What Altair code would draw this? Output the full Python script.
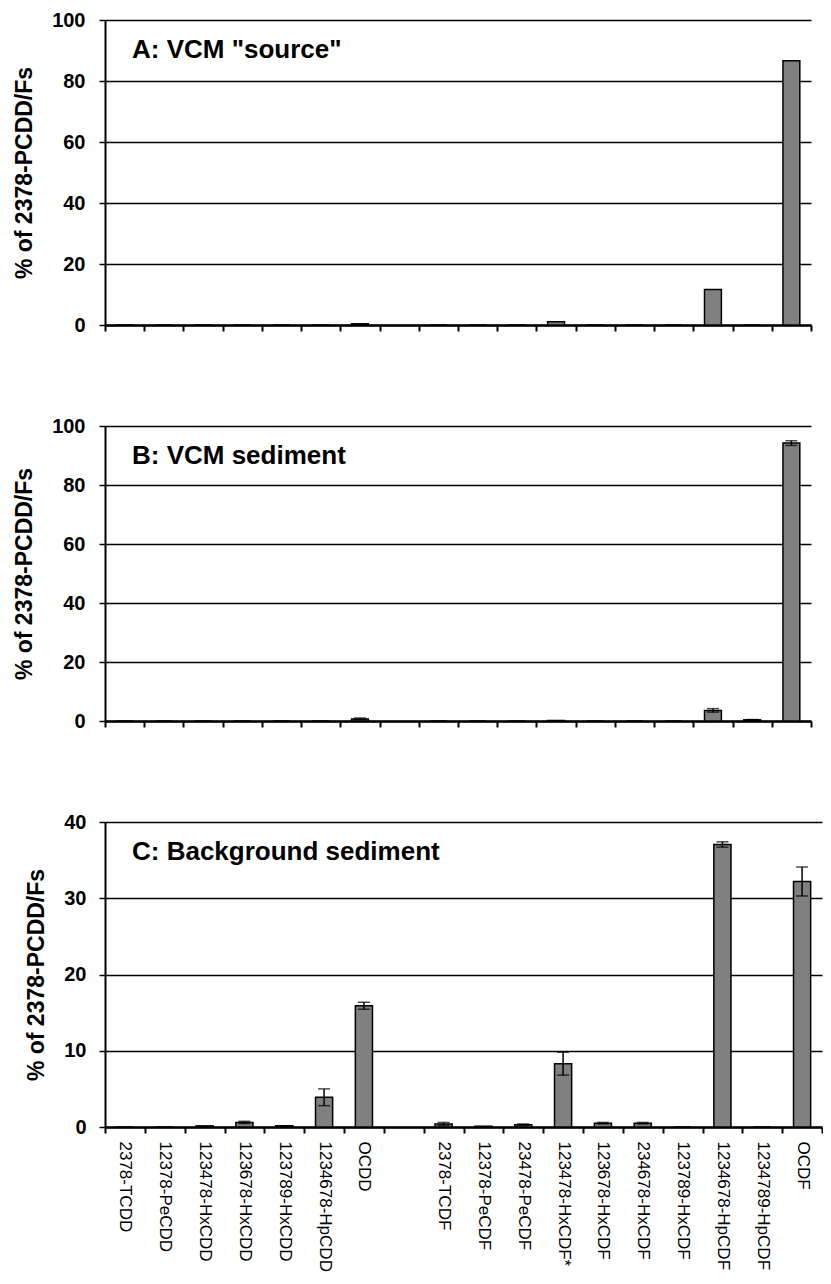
import altair as alt
import pandas as pd

# x-axis slots (the blank slot separates PCDDs from PCDFs)
categories = ["2378-TCDD", "12378-PeCDD", "123478-HxCDD", "123678-HxCDD", "123789-HxCDD",
              "1234678-HpCDD", "OCDD", " ", "2378-TCDF", "12378-PeCDF", "23478-PeCDF",
              "123478-HxCDF*", "123678-HxCDF", "234678-HxCDF", "123789-HxCDF",
              "1234678-HpCDF", "1234789-HpCDF", "OCDF"]
congeners = [c for c in categories if c.strip()]

# Panel A: VCM "source"
a_values = [0, 0, 0, 0, 0, 0, 0.4, 0, 0, 0, 1.1, 0, 0, 0, 11.6, 0, 86.6]
a_errors = [0, 0, 0, 0, 0, 0, 0, 0, 0, 0, 0, 0, 0, 0, 0, 0, 0]
# Panel B: VCM sediment
b_values = [0, 0, 0, 0, 0, 0, 0.7, 0, 0, 0, 0.2, 0, 0, 0, 3.6, 0.4, 94.2]
b_errors = [0, 0, 0, 0, 0, 0, 0.3, 0, 0, 0, 0, 0, 0, 0, 0.6, 0.1, 0.8]
# Panel C: Background sediment
c_values = [0, 0, 0.15, 0.6, 0.15, 3.9, 15.9, 0.4, 0.1, 0.3, 8.3, 0.5, 0.5, 0, 37.05, 0, 32.2]
c_errors = [0, 0, 0, 0.15, 0, 1.1, 0.45, 0.2, 0, 0.1, 1.5, 0.1, 0.1, 0, 0.35, 0, 1.9]

a_ticks = [0, 20, 40, 60, 80, 100]
c_ticks = [0, 10, 20, 30, 40]

FONT = "Liberation Sans"


def panel(values, errors, ticks, label, show_labels, width, height, label_pad):
    df = pd.DataFrame({"cat": congeners, "val": values, "err": errors})
    df["lo"] = df["val"] - df["err"]
    df["hi"] = df["val"] + df["err"]
    eb = df[df["err"] > 0]

    xscale = alt.Scale(domain=categories, paddingInner=0, paddingOuter=0)
    xaxis = alt.Axis(title=None, labels=show_labels, labelAngle=90, labelFont=FONT,
                     labelFontSize=17, labelColor="black", labelPadding=8,
                     labelOverlap=False, labelLimit=300, tickBand="extent",
                     ticks=True, tickSize=6, tickWidth=2,
                     tickColor="black", domainColor="black", domainWidth=2.5)
    yscale = alt.Scale(domain=[ticks[0], ticks[-1]], nice=False)
    yaxis = alt.Axis(title="% of 2378-PCDD/Fs", values=ticks, grid=True,
                     gridColor="black", gridWidth=1.5, tickSize=6, tickWidth=1.5,
                     tickColor="black", domainColor="black", domainWidth=2,
                     labelFont=FONT, labelFontSize=20, labelFontWeight="bold",
                     labelColor="black", labelPadding=label_pad,
                     titleFont=FONT, titleFontSize=23, titleFontWeight="bold",
                     titleColor="black", titlePadding=15)

    x = alt.X("cat:N", scale=xscale, sort=categories, axis=xaxis)
    bars = alt.Chart(df).mark_bar(
        width=alt.RelativeBandSize(0.43), color="#808080", stroke="black", strokeWidth=1.5
    ).encode(x=x, y=alt.Y("val:Q", scale=yscale, axis=yaxis))
    rule = alt.Chart(eb).mark_rule(color="black", strokeWidth=1.5).encode(
        x=alt.X("cat:N", scale=xscale, sort=categories),
        y=alt.Y("lo:Q", scale=yscale), y2="hi:Q")
    cap_hi = alt.Chart(eb).mark_tick(color="black", size=12, thickness=1.5).encode(
        x=alt.X("cat:N", scale=xscale, sort=categories), y=alt.Y("hi:Q", scale=yscale))
    cap_lo = alt.Chart(eb).mark_tick(color="black", size=12, thickness=1.5).encode(
        x=alt.X("cat:N", scale=xscale, sort=categories), y=alt.Y("lo:Q", scale=yscale))
    text = alt.Chart(pd.DataFrame({"t": [label]})).mark_text(
        align="left", baseline="alphabetic", font=FONT, fontSize=26, fontWeight="bold",
        color="black"
    ).encode(text="t:N", x=alt.value(27), y=alt.value(38))
    return alt.layer(bars, rule, cap_hi, cap_lo, text).properties(width=width, height=height)


pa = panel(a_values, a_errors, a_ticks, 'A: VCM "source"', False, 706, 305, 14)
pb = panel(b_values, b_errors, a_ticks, "B: VCM sediment", False, 706, 295, 14)
pc = panel(c_values, c_errors, c_ticks, "C: Background sediment", True, 717, 305, 13)

chart = alt.ConcatChart(
    concat=[pa, pb, pc], columns=1, spacing=81, align="none", bounds="full"
).properties(
    padding={"left": 5, "top": 2, "right": 0, "bottom": 0}
).configure_view(stroke=None)

chart.save("out.html", embed_options={"renderer": "svg", "actions": False})
